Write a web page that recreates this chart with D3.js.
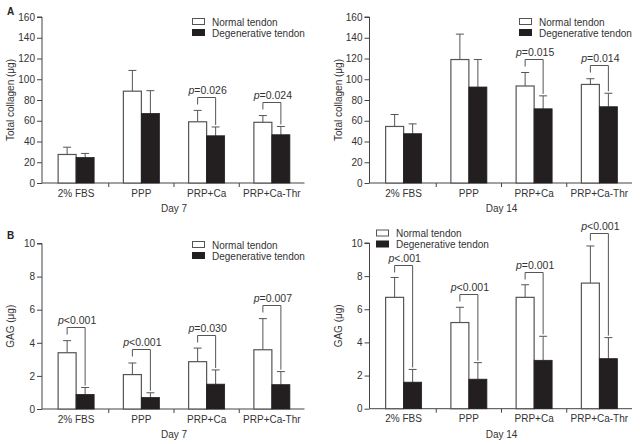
<!DOCTYPE html>
<html><head><meta charset="utf-8">
<script src="https://cdn.jsdelivr.net/npm/d3@7"></script>
<style>
html,body{margin:0;padding:0;background:#fff;}
svg{display:block;font-family:"Liberation Sans",Arial,sans-serif;}
</style></head>
<body>
<svg id="chart" width="640" height="444"></svg>
<script>
const categories = ["2% FBS", "PPP", "PRP+Ca", "PRP+Ca-Thr"];
const seriesNames = ["Normal tendon", "Degenerative tendon"];

// Total collagen (µg)
const collagenDay7Normal = [27.5, 88.5, 59, 58.5];
const collagenDay7NormalErr = [34.5, 108.5, 70, 65];
const collagenDay7Degen = [24.5, 67, 45.5, 46.5];
const collagenDay7DegenErr = [28.5, 89, 54, 54.5];
const collagenDay14Normal = [54.5, 119, 93.5, 95];
const collagenDay14NormalErr = [66, 143.5, 106.5, 100.5];
const collagenDay14Degen = [47.5, 92.5, 71.5, 73.5];
const collagenDay14DegenErr = [57, 119, 84, 86.5];

// GAG (µg)
const gagDay7Normal = [3.4, 2.08, 2.86, 3.58];
const gagDay7NormalErr = [4.13, 2.78, 3.68, 5.46];
const gagDay7Degen = [0.88, 0.69, 1.5, 1.47];
const gagDay7DegenErr = [1.3, 0.98, 2.36, 2.26];
const gagDay14Normal = [6.72, 5.2, 6.72, 7.58];
const gagDay14NormalErr = [7.92, 6.12, 7.48, 9.82];
const gagDay14Degen = [1.6, 1.78, 2.92, 3.02];
const gagDay14DegenErr = [2.37, 2.78, 4.37, 4.29];

const collagenTicks = [0, 20, 40, 60, 80, 100, 120, 140, 160];
const gagTicks = [0, 2, 4, 6, 8, 10];

// p-value brackets: category, bracket height (data units), label value
const collagenDay7PCats = ["PRP+Ca", "PRP+Ca-Thr"];
const collagenDay7PY = [83.3, 78.5];
const collagenDay7PText = ["=0.026", "=0.024"];
const collagenDay14PCats = ["PRP+Ca", "PRP+Ca-Thr"];
const collagenDay14PY = [119.2, 113.4];
const collagenDay14PText = ["=0.015", "=0.014"];
const gagDay7PCats = ["2% FBS", "PPP", "PRP+Ca", "PRP+Ca-Thr"];
const gagDay7PY = [4.96, 3.6, 4.5, 6.3];
const gagDay7PText = ["<0.001", "<0.001", "=0.030", "=0.007"];
const gagDay14PCats = ["2% FBS", "PPP", "PRP+Ca", "PRP+Ca-Thr"];
const gagDay14PY = [8.66, 6.9, 8.22, 10.62];
const gagDay14PText = ["<.001", "<0.001", "=0.001", "<0.001"];

const svg = d3.select("#chart");
const TXT = "#333";
const AX = "#444";

function panel(cfg) {
  const g = svg.append("g");
  const x = d3.scaleBand().domain(categories).range([cfg.x0 + 1.5, cfg.x1]);
  const y = d3.scaleLinear().domain([0, cfg.max]).range([cfg.yb, cfg.yt]);
  const bw = 18;

  // y axis
  const ya = d3.axisLeft(y).tickValues(cfg.ticks).tickSize(5).tickPadding(2);
  const yg = g.append("g").attr("transform", `translate(${cfg.x0},0)`).call(ya);
  yg.select(".domain").attr("stroke", AX).attr("d", `M-5,${cfg.yt}H0V${cfg.yb}`);
  yg.selectAll(".tick line").attr("stroke", AX);
  yg.selectAll(".tick text").attr("fill", TXT).style("font-size", "10px")
    .style("font-family", "Liberation Sans, Arial, sans-serif");

  // x axis
  g.append("line").attr("x1", cfg.x0).attr("x2", x.range()[1]).attr("y1", cfg.yb).attr("y2", cfg.yb)
    .attr("stroke", AX);
  categories.slice(1).forEach(c => {
    g.append("line").attr("x1", x(c)).attr("x2", x(c)).attr("y1", cfg.yb).attr("y2", cfg.yb + 4).attr("stroke", AX);
  });
  categories.forEach(c => {
    g.append("text").attr("x", x(c) + x.bandwidth() / 2).attr("y", cfg.yb + 13.5)
      .attr("text-anchor", "middle").attr("fill", TXT).style("font-size", "10px").text(c);
  });
  g.append("text").attr("x", (x.range()[0] + x.range()[1]) / 2).attr("y", cfg.yb + 29)
    .attr("text-anchor", "middle").attr("fill", TXT).style("font-size", "10px").text(cfg.day);

  // y label
  g.append("text").attr("transform", `translate(${cfg.x0 - 28},${(cfg.yt + cfg.yb) / 2}) rotate(-90)`)
    .attr("text-anchor", "middle").attr("fill", TXT).style("font-size", "10px").text(cfg.ylabel);

  // bars
  categories.forEach((c, i) => {
    const cx = x(c) + x.bandwidth() / 2;
    // error bars
    [[cfg.n, cfg.ne, cx - bw / 2], [cfg.d, cfg.de, cx + bw / 2]].forEach(([v, e, ex]) => {
      g.append("line").attr("x1", ex).attr("x2", ex).attr("y1", y(v[i])).attr("y2", y(e[i])).attr("stroke", "#555");
      g.append("line").attr("x1", ex - 4).attr("x2", ex + 4).attr("y1", y(e[i])).attr("y2", y(e[i])).attr("stroke", "#555");
    });
    g.append("rect").attr("x", cx - bw).attr("y", y(cfg.n[i])).attr("width", bw).attr("height", cfg.yb - y(cfg.n[i]))
      .attr("fill", "#fff").attr("stroke", "#555").attr("stroke-width", 1.2);
    g.append("rect").attr("x", cx).attr("y", y(cfg.d[i])).attr("width", bw).attr("height", cfg.yb - y(cfg.d[i]))
      .attr("fill", "#231f20").attr("stroke", "#231f20").attr("stroke-width", 0.8);
  });

  // p brackets
  cfg.pc.forEach((c, k) => {
    const i = categories.indexOf(c);
    const cx = x(c) + x.bandwidth() / 2;
    const by = Math.round(y(cfg.py[k])) + 0.5;
    const lx = cx - bw / 2, rx = cx + bw / 2;
    const lEnd = Math.min(by + 7, y(cfg.ne[i]) - 5);
    const rEnd = y(cfg.de[i]) - 2;
    g.append("path").attr("d", `M${lx},${lEnd}V${by}H${rx}V${rEnd}`).attr("fill", "none").attr("stroke", "#555");
    const t = g.append("text").attr("x", cx + 1).attr("y", by - 3.5).attr("text-anchor", "middle")
      .attr("fill", TXT).style("font-size", "10.5px");
    t.append("tspan").style("font-style", "italic").text("p");
    t.append("tspan").text(cfg.pt[k]);
  });

  // legend
  const lg = g.append("g").attr("transform", `translate(${cfg.lx},${cfg.ly})`);
  seriesNames.forEach((s, k) => {
    lg.append("rect").attr("x", 0.5).attr("y", k * 11 + 0.5).attr("width", 12).attr("height", 6)
      .attr("fill", k === 0 ? "#fff" : "#231f20").attr("stroke", k === 0 ? "#555" : "#231f20");
    lg.append("text").attr("x", 20).attr("y", k * 11 + 7.5).attr("fill", TXT).style("font-size", "10px").text(s);
  });

  if (cfg.letter) {
    svg.append("text").attr("x", 7).attr("y", cfg.letterY).attr("fill", "#222")
      .style("font-size", "10px").style("font-weight", "bold").text(cfg.letter);
  }
}

panel({x0: 42, x1: 304.5, yt: 17, yb: 183, max: 160, ticks: collagenTicks, day: "Day 7",
  ylabel: "Total collagen (\u03bcg)", n: collagenDay7Normal, ne: collagenDay7NormalErr,
  d: collagenDay7Degen, de: collagenDay7DegenErr, pc: collagenDay7PCats, py: collagenDay7PY, pt: collagenDay7PText,
  lx: 192, ly: 18, letter: "A", letterY: 15});
panel({x0: 369.5, x1: 632, yt: 17, yb: 183, max: 160, ticks: collagenTicks, day: "Day 14",
  ylabel: "Total collagen (\u03bcg)", n: collagenDay14Normal, ne: collagenDay14NormalErr,
  d: collagenDay14Degen, de: collagenDay14DegenErr, pc: collagenDay14PCats, py: collagenDay14PY, pt: collagenDay14PText,
  lx: 519, ly: 18});
panel({x0: 42, x1: 304.5, yt: 243.5, yb: 409, max: 10, ticks: gagTicks, day: "Day 7",
  ylabel: "GAG (\u03bcg)", n: gagDay7Normal, ne: gagDay7NormalErr,
  d: gagDay7Degen, de: gagDay7DegenErr, pc: gagDay7PCats, py: gagDay7PY, pt: gagDay7PText,
  lx: 192, ly: 241, letter: "B", letterY: 239});
panel({x0: 369.5, x1: 632, yt: 243, yb: 408.7, max: 10, ticks: gagTicks, day: "Day 14",
  ylabel: "GAG (\u03bcg)", n: gagDay14Normal, ne: gagDay14NormalErr,
  d: gagDay14Degen, de: gagDay14DegenErr, pc: gagDay14PCats, py: gagDay14PY, pt: gagDay14PText,
  lx: 376, ly: 229.5});
</script>
</body></html>
